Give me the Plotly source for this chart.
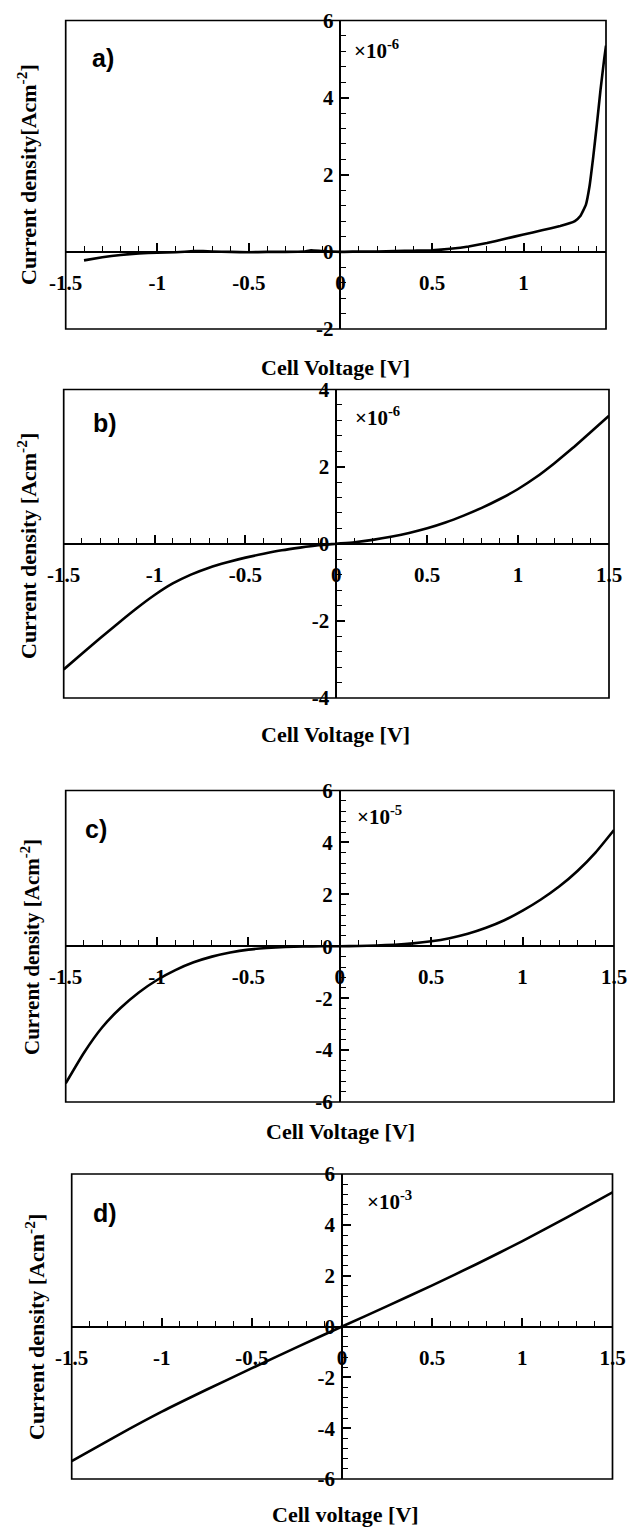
import plotly.graph_objects as go

W, H = 629, 1529

# ---------------- data ----------------
# panel a : units 1e-6 A/cm2
a_voltage = [-1.40, -1.30, -1.20, -1.10, -1.00, -0.90, -0.80, -0.75, -0.70, -0.60, -0.50, -0.40,
             -0.30, -0.20, -0.16, -0.10, 0.00, 0.10, 0.20, 0.30, 0.40, 0.50, 0.60, 0.70, 0.80,
             0.90, 1.00, 1.10, 1.20, 1.25, 1.28, 1.31, 1.34, 1.36, 1.38, 1.40, 1.42, 1.44, 1.45]
a_current = [-0.22, -0.14, -0.08, -0.04, -0.02, -0.01, 0.02, 0.02, 0.01, 0.00, -0.01, 0.00,
             0.00, 0.01, 0.04, 0.02, 0.00, 0.01, 0.01, 0.02, 0.03, 0.04, 0.08, 0.14, 0.23,
             0.34, 0.45, 0.56, 0.67, 0.74, 0.80, 0.93, 1.22, 1.70, 2.45, 3.30, 4.20, 5.00, 5.35]

# panel b : units 1e-6 A/cm2
b_voltage = [-1.5, -1.4, -1.3, -1.2, -1.1, -1.0, -0.9, -0.8, -0.7, -0.6, -0.5, -0.4, -0.3, -0.2, -0.1,
             0.0, 0.1, 0.2, 0.3, 0.4, 0.5, 0.6, 0.7, 0.8, 0.9, 1.0, 1.1, 1.2, 1.3, 1.4, 1.5]
b_current = [-3.26, -2.85, -2.45, -2.06, -1.68, -1.33, -1.03, -0.80, -0.62, -0.48, -0.36, -0.26, -0.17, -0.10, -0.04,
             0.00, 0.04, 0.10, 0.18, 0.28, 0.40, 0.55, 0.73, 0.93, 1.16, 1.42, 1.73, 2.09, 2.48, 2.90, 3.32]

# panel c : units 1e-5 A/cm2
c_voltage = [-1.5, -1.4, -1.3, -1.2, -1.1, -1.0, -0.9, -0.8, -0.7, -0.6, -0.5, -0.4, -0.3, -0.2, -0.1,
             0.0, 0.1, 0.2, 0.3, 0.4, 0.5, 0.6, 0.7, 0.8, 0.9, 1.0, 1.1, 1.2, 1.3, 1.4, 1.5]
c_current = [-5.28, -4.10, -3.12, -2.38, -1.78, -1.30, -0.92, -0.62, -0.40, -0.24, -0.13, -0.07, -0.03, -0.01, 0.00,
             0.00, 0.01, 0.03, 0.06, 0.11, 0.19, 0.31, 0.48, 0.71, 1.00, 1.37, 1.80, 2.30, 2.90, 3.62, 4.48]

# panel d : units 1e-3 A/cm2
d_voltage = [-1.5, -1.25, -1.0, -0.75, -0.5, -0.25, 0.0, 0.25, 0.5, 0.75, 1.0, 1.25, 1.5]
d_current = [-5.30, -4.30, -3.35, -2.48, -1.64, -0.81, 0.00, 0.80, 1.62, 2.47, 3.36, 4.30, 5.28]

x_tick_vals = [-1.5, -1.0, -0.5, 0.0, 0.5, 1.0, 1.5]
x_tick_text = ["-1.5", "-1", "-0.5", "0", "0.5", "1", "1.5"]
y_tick_vals = [-6, -4, -2, 0, 2, 4, 6]
y_tick_text = ["-6", "-4", "-2", "0", "2", "4", "6"]

# ---------------- layout configuration ----------------
SERIF = "Liberation Serif, Times New Roman, serif"
SANS = "Liberation Sans, Arial, sans-serif"

panels = [
    dict(v=a_voltage, j=a_current, xr=[-1.5, 1.45], yr=[-2, 6], smooth=0.3,
         box=(65.7, 606.0, 20.5, 329.0), label="a)", lab_xy=(103, 58),
         exp="×10<sup>-6</sup>", exp_xy=(352, 50),
         ytitle="Current density[Acm<sup>-2</sup>]", yt_xy=(27, 175), yt_size=22,
         xtitle="Cell Voltage [V]", xt_xy=(335, 367)),
    dict(v=b_voltage, j=b_current, xr=[-1.5, 1.5], yr=[-4, 4], smooth=0.5,
         box=(63.7, 609.0, 389.5, 698.0), label="b)", lab_xy=(105, 423),
         exp="×10<sup>-6</sup>", exp_xy=(353, 417),
         ytitle="Current density [Acm<sup>-2</sup>]", yt_xy=(27, 546), yt_size=22,
         xtitle="Cell Voltage [V]", xt_xy=(335, 735)),
    dict(v=c_voltage, j=c_current, xr=[-1.5, 1.5], yr=[-6, 6], smooth=0.5,
         box=(65.7, 614.0, 790.5, 1102.0), label="c)", lab_xy=(96, 829),
         exp="×10<sup>-5</sup>", exp_xy=(355, 815),
         ytitle="Current density [Acm<sup>-2</sup>]", yt_xy=(30, 947), yt_size=21,
         xtitle="Cell Voltage [V]", xt_xy=(340, 1131)),
    dict(v=d_voltage, j=d_current, xr=[-1.5, 1.5], yr=[-6, 6], smooth=0.5,
         box=(71.7, 612.5, 1174.0, 1479.0), label="d)", lab_xy=(105, 1213),
         exp="×10<sup>-3</sup>", exp_xy=(365, 1200),
         ytitle="Current density [Acm<sup>-2</sup>]", yt_xy=(35, 1327), yt_size=22,
         xtitle="Cell voltage [V]", xt_xy=(345, 1514)),
]

fig = go.Figure()
annotations = []
shapes = []
layout_axes = {}
tickfont = dict(family=SERIF, size=21, color="black", weight="bold")

for i, p in enumerate(panels, start=1):
    sfx = "" if i == 1 else str(i)
    x0, x1, ytop, ybot = p["box"]
    xdom = [x0 / W, x1 / W]
    ydom = [1 - ybot / H, 1 - ytop / H]
    # where the axes cross (data zero) in paper coordinates
    xzero = xdom[0] + (0 - p["xr"][0]) / (p["xr"][1] - p["xr"][0]) * (xdom[1] - xdom[0])
    yzero = ydom[0] + (0 - p["yr"][0]) / (p["yr"][1] - p["yr"][0]) * (ydom[1] - ydom[0])

    fig.add_trace(go.Scatter(
        x=p["v"], y=p["j"], mode="lines",
        line=dict(color="black", width=2.6, shape="spline", smoothing=p["smooth"]),
        xaxis="x" + sfx, yaxis="y" + sfx, showlegend=False, hoverinfo="skip"))

    layout_axes["xaxis" + sfx] = dict(
        domain=xdom, range=p["xr"], anchor="free", position=yzero, automargin=False,
        showline=True, linecolor="black", linewidth=1.6,
        showgrid=False, zeroline=False,
        tickmode="array", tickvals=x_tick_vals, ticktext=["<b>%s</b>" % t for t in x_tick_text],
        ticks="inside", ticklen=8, tickwidth=1.5, tickcolor="black",
        minor=dict(dtick=0.1, tick0=0, ticks="inside", ticklen=5, tickwidth=1.3,
                   tickcolor="black", showgrid=False),
        tickfont=tickfont, ticklabelstandoff=12,
    )
    layout_axes["yaxis" + sfx] = dict(
        domain=ydom, range=p["yr"], anchor="free", position=xzero, automargin=False,
        showline=True, linecolor="black", linewidth=1.6,
        showgrid=False, zeroline=False,
        tickmode="array", tickvals=y_tick_vals, ticktext=["<b>%s</b>" % t for t in y_tick_text],
        ticks="inside", ticklen=8, tickwidth=1.5, tickcolor="black",
        minor=dict(dtick=0.4, tick0=0, ticks="inside", ticklen=5, tickwidth=1.3,
                   tickcolor="black", showgrid=False),
        tickfont=tickfont, ticklabelstandoff=2,
    )

    shapes.append(dict(type="rect", xref="x" + sfx + " domain", yref="y" + sfx + " domain",
                       x0=0, x1=1, y0=0, y1=1, line=dict(color="black", width=1.7),
                       fillcolor="rgba(0,0,0,0)", layer="above"))

    annotations.append(dict(text="<b>%s</b>" % p["label"], xref="paper", yref="paper",
                            x=p["lab_xy"][0] / W, y=1 - p["lab_xy"][1] / H,
                            showarrow=False, xanchor="center", yanchor="middle",
                            font=dict(family=SANS, size=25, color="black", weight="bold")))
    annotations.append(dict(text="<b>%s</b>" % p["exp"], xref="paper", yref="paper",
                            x=p["exp_xy"][0] / W, y=1 - p["exp_xy"][1] / H,
                            showarrow=False, xanchor="left", yanchor="middle",
                            font=dict(family=SERIF, size=21, color="black", weight="bold")))
    annotations.append(dict(text="<b>%s</b>" % p["ytitle"], xref="paper", yref="paper",
                            x=p["yt_xy"][0] / W, y=1 - p["yt_xy"][1] / H, textangle=-90,
                            showarrow=False, xanchor="center", yanchor="middle",
                            font=dict(family=SERIF, size=p["yt_size"], color="black", weight="bold")))
    annotations.append(dict(text="<b>%s</b>" % p["xtitle"], xref="paper", yref="paper",
                            x=p["xt_xy"][0] / W, y=1 - p["xt_xy"][1] / H,
                            showarrow=False, xanchor="center", yanchor="middle",
                            font=dict(family=SERIF, size=22, color="black", weight="bold")))

fig.update_layout(
    width=W, height=H, margin=dict(l=0, r=0, t=0, b=0, autoexpand=False),
    paper_bgcolor="white", plot_bgcolor="white",
    annotations=annotations, shapes=shapes, showlegend=False,
    **layout_axes,
)

fig.write_html("out.html")
